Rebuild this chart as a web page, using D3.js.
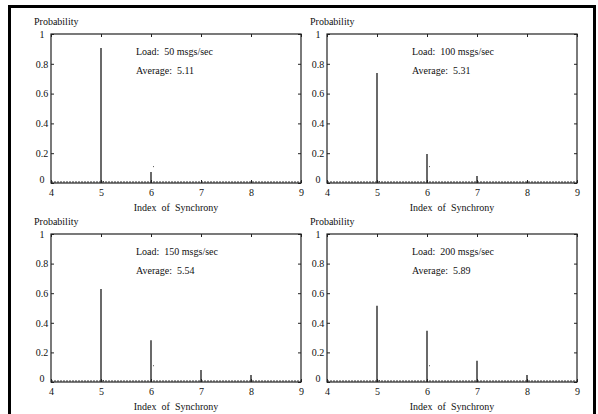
<!DOCTYPE html>
<html>
<head>
<meta charset="utf-8">
<script src="https://cdn.jsdelivr.net/npm/d3@7"></script>
<style>
  html, body { margin: 0; padding: 0; background: #fff; }
  svg { display: block; }
  text { font-family: "Liberation Serif", "Times New Roman", serif; fill: #111; white-space: pre; }
</style>
</head>
<body>
<svg id="chart" width="598" height="414"></svg>
<script>
// ---- data ----
const indexValues = [5, 6, 7, 8];
const loads = [50, 100, 150, 200];
const averages = ["5.11", "5.31", "5.54", "5.89"];
const prob50  = [0.906, 0.074, 0.000, 0.000];
const prob100 = [0.738, 0.195, 0.047, 0.005];
const prob150 = [0.628, 0.282, 0.081, 0.047];
const prob200 = [0.516, 0.347, 0.144, 0.047];
const seriesProbs = [prob50, prob100, prob150, prob200];
const dotX = [5.05, 6.05];
const dotY = [0.01, 0.11];
const xTicks = [4, 5, 6, 7, 8, 9];
const yTicks = [0, 0.2, 0.4, 0.6, 0.8, 1];
const xTickLabels = ["4", "5", "6", "7", "8", "9"];
const yTickLabels = ["0", "0.2", "0.4", "0.6", "0.8", "1"];

// ---- layout ----
const svg = d3.select("#chart");
const panels = [
  { x0: 51,  x1: 301, y0: 183, y1: 34 },
  { x0: 327, x1: 577, y0: 183, y1: 34 },
  { x0: 51,  x1: 301, y0: 382, y1: 234 },
  { x0: 327, x1: 577, y0: 382, y1: 234 }
];

// outer frame
svg.append("rect")
  .attr("x", 9.5).attr("y", 6.5)
  .attr("width", 585).attr("height", 420)
  .attr("fill", "none").attr("stroke", "#000").attr("stroke-width", 3);

panels.forEach((p, i) => {
  const x = d3.scaleLinear().domain([4, 9]).range([p.x0, p.x1]);
  const y = d3.scaleLinear().domain([0, 1]).range([p.y0, p.y1]);
  const g = svg.append("g");

  // stems
  g.selectAll("line.stem")
    .data(indexValues.map((v, k) => ({ v, p: seriesProbs[i][k] })).filter(d => d.p > 0))
    .join("line")
    .attr("class", "stem")
    .attr("x1", d => x(d.v)).attr("x2", d => x(d.v))
    .attr("y1", y(0)).attr("y2", d => y(d.p))
    .attr("stroke", "#1a1a1a").attr("stroke-width", 1.3);

  // tiny dots
  g.selectAll("rect.dot")
    .data(dotX.map((v, k) => ({ v, p: dotY[k] })))
    .join("rect")
    .attr("x", d => x(d.v) - 0.5).attr("y", d => y(d.p) - 0.5)
    .attr("width", 1).attr("height", 1).attr("fill", "#555");

  // axes box
  g.append("rect")
    .attr("x", p.x0).attr("y", p.y1)
    .attr("width", p.x1 - p.x0).attr("height", p.y0 - p.y1)
    .attr("fill", "none").attr("stroke", "#222").attr("stroke-width", 1.2);

  // dotted baseline
  g.append("line")
    .attr("x1", p.x0).attr("x2", p.x1)
    .attr("y1", p.y0 - 1).attr("y2", p.y0 - 1)
    .attr("stroke", "#333").attr("stroke-width", 1)
    .attr("stroke-dasharray", "2,1");

  // axes via d3
  const xAxisB = d3.axisBottom(x).tickValues(xTicks).tickSize(-3).tickPadding(6)
    .tickFormat((d, k) => xTickLabels[k]);
  const gxb = g.append("g").attr("transform", `translate(0,${p.y0})`).call(xAxisB);
  const xAxisT = d3.axisTop(x).tickValues(xTicks).tickSize(-3).tickFormat("");
  const gxt = g.append("g").attr("transform", `translate(0,${p.y1})`).call(xAxisT);
  const yAxisL = d3.axisLeft(y).tickValues(yTicks).tickSize(-3).tickPadding(6)
    .tickFormat((d, k) => yTickLabels[k]);
  const gyl = g.append("g").attr("transform", `translate(${p.x0},0)`).call(yAxisL);
  const yAxisR = d3.axisRight(y).tickValues(yTicks).tickSize(-3).tickFormat("");
  const gyr = g.append("g").attr("transform", `translate(${p.x1},0)`).call(yAxisR);

  [gxb, gxt, gyl, gyr].forEach(a => {
    a.select(".domain").remove();
    a.selectAll(".tick line").attr("stroke", "#222").attr("stroke-width", 1);
    a.selectAll("text").attr("font-family", "Liberation Serif, Times New Roman, serif")
      .attr("font-size", 10).attr("fill", "#111");
  });
  gyl.selectAll(".tick text")
    .attr("text-anchor", "middle").attr("x", -9)
    .attr("dy", (d) => d === 0 ? "-0.1em" : "0.32em");
  gxb.selectAll(".tick text").attr("dy", "0.71em");

  // labels
  g.append("text").attr("x", p.x0 - 17).attr("y", p.y1 - 9)
    .attr("font-size", 10).text("Probability");
  g.append("text").attr("x", (p.x0 + p.x1) / 2).attr("y", p.y0 + 28)
    .attr("text-anchor", "middle").attr("font-size", 10)
    .text("Index  of  Synchrony");
  g.append("text").attr("x", p.x0 + 85).attr("y", p.y1 + 21)
    .attr("font-size", 10).text(`Load:  ${loads[i]} msgs/sec`);
  g.append("text").attr("x", p.x0 + 85).attr("y", p.y1 + 40)
    .attr("font-size", 10).text(`Average:  ${averages[i]}`);
});
</script>
</body>
</html>
